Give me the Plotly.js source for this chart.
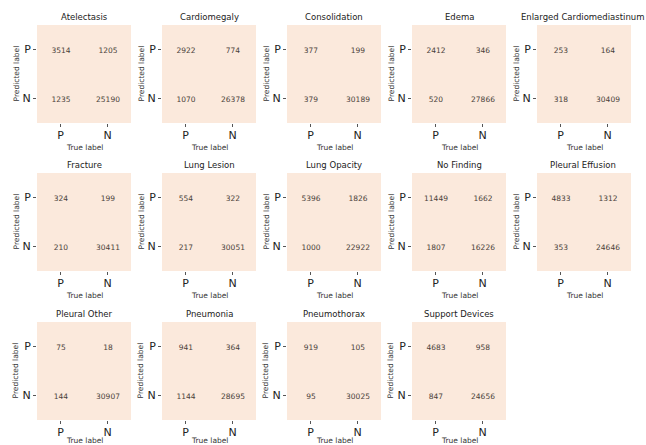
<!DOCTYPE html>
<html>
<head>
<meta charset="utf-8">
<script src="https://cdn.plot.ly/plotly-3.0.1.min.js"></script>
<style>html,body{margin:0;padding:0;background:#fff;overflow:hidden;}#chart{width:646px;height:445px;}</style>
</head>
<body>
<div id="chart"></div>
<script>
const findings = ["Atelectasis","Cardiomegaly","Consolidation","Edema","Enlarged Cardiomediastinum",
  "Fracture","Lung Lesion","Lung Opacity","No Finding","Pleural Effusion",
  "Pleural Other","Pneumonia","Pneumothorax","Support Devices"];
// rows = predicted label (P, N), cols = true label (P, N)
const predPtrueP = [3514,2922,377,2412,253,324,554,5396,11449,4833,75,941,919,4683];
const predPtrueN = [1205,774,199,346,164,199,322,1826,1662,1312,18,364,105,958];
const predNtrueP = [1235,1070,379,520,318,210,217,1000,1807,353,144,1144,95,847];
const predNtrueN = [25190,26378,30189,27866,30409,30411,30051,22922,16226,24646,30907,28695,30025,24656];
const tickLabels = ["P","N"];
const xTitle = "True label", yTitle = "Predicted label";

const W = 646, H = 445;
const colLeft = [37,162,287,412,537];
const rowTop = [25,173,322];
const boxW = 94, boxH = 98;
const cellColor = "#fbe9dc";
const font = "DejaVu Sans, sans-serif";

const data = [];
const layout = {
  width: W, height: H,
  margin: {l:0,r:0,t:0,b:0},
  paper_bgcolor: "#fff", plot_bgcolor: "#fff",
  showlegend: false,
  font: {family: font, color: "#222"},
  annotations: []
};

findings.forEach((name, i) => {
  const r = Math.floor(i/5), c = i % 5;
  const sfx = i === 0 ? "" : String(i+1);
  const xa = "x" + sfx, ya = "y" + sfx;
  const z = [[predPtrueP[i], predPtrueN[i]],[predNtrueP[i], predNtrueN[i]]];
  data.push({
    type: "heatmap", xaxis: xa, yaxis: ya,
    x: tickLabels, y: tickLabels, z: z,
    text: z.map(row => row.map(v => String(v))),
    texttemplate: "%{text}",
    textfont: {family: font, size: 7.5, color: "#4a3f3a"},
    colorscale: [[0, cellColor],[1, cellColor]],
    showscale: false, hoverinfo: "skip"
  });
  const x0 = colLeft[c] / W, x1 = (colLeft[c] + boxW) / W;
  const y1 = 1 - rowTop[r] / H, y0 = 1 - (rowTop[r] + boxH) / H;
  layout["xaxis" + sfx] = {
    domain: [x0, x1], anchor: ya, type: "category",
    ticks: "outside", ticklen: 3, tickcolor: "#555", tickwidth: 1,
    ticklabelstandoff: -1,
    tickfont: {family: font, size: 11, color: "#222"},
    showgrid: false, zeroline: false, showline: false, fixedrange: true
  };
  layout["yaxis" + sfx] = {
    domain: [y0, y1], anchor: xa, type: "category", autorange: "reversed",
    ticks: "outside", ticklen: 3, tickcolor: "#555", tickwidth: 1,
    ticklabelstandoff: 0,
    tickfont: {family: font, size: 11, color: "#222"},
    showgrid: false, zeroline: false, showline: false, fixedrange: true
  };
  layout.annotations.push({
    text: name, xref: "paper", yref: "paper",
    x: (x0 + x1) / 2, y: y1, xanchor: "center", yanchor: "bottom",
    yshift: 1, xshift: c === 4 ? -1 : 0, showarrow: false,
    font: {family: font, size: 8.5, color: "#222"}
  });
  layout.annotations.push({
    text: xTitle, xref: "paper", yref: "paper",
    x: (x0 + x1) / 2, y: y0, xanchor: "center", yanchor: "middle",
    yshift: r === 2 ? -20 : -24, showarrow: false,
    font: {family: font, size: 7.5, color: "#333"}
  });
  layout.annotations.push({
    text: yTitle, xref: "paper", yref: "paper", textangle: -90,
    x: x0, y: (y0 + y1) / 2, xanchor: "center", yanchor: "middle",
    xshift: -21.5, showarrow: false,
    font: {family: font, size: 7.5, color: "#333"}
  });
});

Plotly.newPlot("chart", data, layout, {displayModeBar: false, staticPlot: true});
</script>
</body>
</html>
